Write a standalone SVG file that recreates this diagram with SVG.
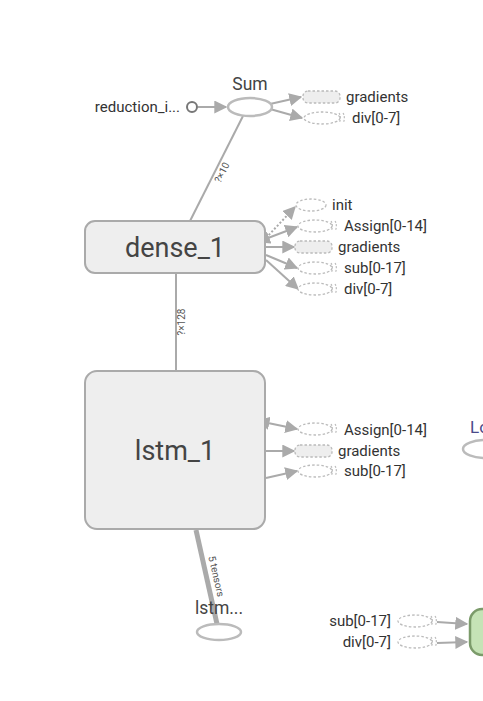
<svg xmlns="http://www.w3.org/2000/svg" width="483" height="701" viewBox="0 0 483 701">
<defs>
<style>
text{font-family:Roboto,"Liberation Sans",sans-serif;fill:#333}
.lbl{font-size:15px}
.big{font-size:27px;text-anchor:middle;fill:#444}
.mid{font-size:17.5px;text-anchor:middle;fill:#444}
.el{font-size:10px;fill:#555}
.edge{stroke:#aaa;stroke-width:2;fill:none}
.node{fill:#eee;stroke:#aaa;stroke-width:2}
.op{fill:#fff;stroke:#bbb;stroke-width:2.5}
.dash{fill:#fff;stroke:#bbb;stroke-width:1.3;stroke-dasharray:2.5,2}
.dbox{fill:#eee;stroke:#bbb;stroke-width:1.3;stroke-dasharray:2.5,2}
.arc{fill:none;stroke:#bbb;stroke-width:1.2;stroke-dasharray:2,1.5}
</style>
<marker id="ah" viewBox="0 0 10 10" refX="9" refY="5" markerWidth="6.5" markerHeight="6.5" orient="auto"><path d="M0,0L10,5L0,10z" fill="#aaa"/></marker>
<marker id="as" viewBox="0 0 10 10" refX="1" refY="5" markerWidth="6.5" markerHeight="6.5" orient="auto-start-reverse"><path d="M0,0L10,5L0,10z" fill="#aaa"/></marker>
</defs>

<g id="connectors">
<line class="edge" x1="198" y1="107" x2="226" y2="107" marker-end="url(#ah)"/>
<line class="edge" x1="270" y1="104" x2="301" y2="97" marker-end="url(#ah)"/>
<line class="edge" x1="270" y1="109" x2="302" y2="118" marker-end="url(#ah)"/>
<line class="edge" x1="243" y1="116" x2="190" y2="221"/>
<text class="el" transform="translate(225,174) rotate(-63)" text-anchor="middle">?×10</text>
<line class="edge" x1="266" y1="238" x2="295" y2="207" stroke-dasharray="2,2" marker-end="url(#ah)"/>
<line class="edge" x1="268" y1="238" x2="297" y2="227" marker-start="url(#as)" marker-end="url(#ah)"/>
<line class="edge" x1="266" y1="247" x2="294" y2="247" marker-end="url(#ah)"/>
<line class="edge" x1="266" y1="255" x2="297" y2="268" marker-end="url(#ah)"/>
<line class="edge" x1="266" y1="260" x2="298" y2="289" marker-end="url(#ah)"/>
<line class="edge" x1="176" y1="273" x2="176" y2="371"/>
<text class="el" transform="translate(185,322) rotate(-90)" text-anchor="middle">?×128</text>
<line class="edge" x1="268" y1="423" x2="297" y2="429" marker-start="url(#as)" marker-end="url(#ah)"/>
<line class="edge" x1="266" y1="451" x2="294" y2="451" marker-end="url(#ah)"/>
<line class="edge" x1="266" y1="478" x2="297" y2="471" marker-end="url(#ah)"/>
<line x1="196" y1="530" x2="217" y2="624" stroke="#aaa" stroke-width="5"/>
<text class="el" transform="translate(213,577) rotate(77)" text-anchor="middle">5 tensors</text>
<line class="edge" x1="437" y1="622" x2="467" y2="624" marker-end="url(#ah)"/>
<line class="edge" x1="437" y1="643" x2="467" y2="642" marker-end="url(#ah)"/>
</g>

<g id="reduction">
<text class="lbl" x="180" y="112" text-anchor="end">reduction_i...</text>
<circle cx="192" cy="107" r="5" fill="#fff" stroke="#777" stroke-width="2"/>
</g>

<g id="sum">
<text class="mid" x="250" y="90">Sum</text>
<ellipse class="op" cx="250" cy="107" rx="22" ry="9"/>
</g>

<g id="sum-gradients">
<rect class="dbox" x="303" y="91" width="37" height="12" rx="5"/>
<text class="lbl" x="346" y="102">gradients</text>
</g>
<g id="sum-div">
<ellipse class="dash" cx="322" cy="118" rx="18" ry="6"/>
<path class="arc" d="M339,113 A3,6 0 0 1 339,123 M343,113 A3,6 0 0 1 343,123"/>
<text class="lbl" x="352" y="123">div[0-7]</text>
</g>

<g id="dense_1">
<rect class="node" x="85" y="221" width="180" height="52" rx="10"/>
<text class="big" x="175" y="257">dense_1</text>
</g>

<g id="dense-init">
<ellipse class="dash" cx="311" cy="205" rx="15" ry="6"/>
<text class="lbl" x="332" y="210">init</text>
</g>
<g id="dense-assign">
<ellipse class="dash" cx="315" cy="226" rx="17" ry="6"/>
<path class="arc" d="M331,221 A3,6 0 0 1 331,231 M335,221 A3,6 0 0 1 335,231"/>
<text class="lbl" x="344" y="231">Assign[0-14]</text>
</g>
<g id="dense-gradients">
<rect class="dbox" x="295" y="241" width="37" height="12" rx="5"/>
<text class="lbl" x="338" y="252">gradients</text>
</g>
<g id="dense-sub">
<ellipse class="dash" cx="315" cy="268" rx="17" ry="6"/>
<path class="arc" d="M331,263 A3,6 0 0 1 331,273 M335,263 A3,6 0 0 1 335,273"/>
<text class="lbl" x="344" y="273">sub[0-17]</text>
</g>
<g id="dense-div">
<ellipse class="dash" cx="315" cy="289" rx="17" ry="6"/>
<path class="arc" d="M331,284 A3,6 0 0 1 331,294 M335,284 A3,6 0 0 1 335,294"/>
<text class="lbl" x="344" y="294">div[0-7]</text>
</g>

<g id="lstm_1">
<rect class="node" x="85" y="371" width="180" height="158" rx="12"/>
<text class="big" x="175" y="460">lstm_1</text>
</g>

<g id="lstm-assign">
<ellipse class="dash" cx="315" cy="429" rx="17" ry="6"/>
<path class="arc" d="M331,424 A3,6 0 0 1 331,434 M335,424 A3,6 0 0 1 335,434"/>
<text class="lbl" x="344" y="435">Assign[0-14]</text>
</g>
<g id="lstm-gradients">
<rect class="dbox" x="295" y="445" width="37" height="12" rx="5"/>
<text class="lbl" x="338" y="456">gradients</text>
</g>
<g id="lstm-sub">
<ellipse class="dash" cx="315" cy="471" rx="17" ry="6"/>
<path class="arc" d="M331,466 A3,6 0 0 1 331,476 M335,466 A3,6 0 0 1 335,476"/>
<text class="lbl" x="344" y="476">sub[0-17]</text>
</g>

<g id="lo">
<text x="470" y="433" style="font-size:17px;fill:#4a4a8a">Lo</text>
<ellipse class="op" cx="486" cy="449" rx="23" ry="9"/>
</g>

<g id="lstm-dots">
<text class="mid" x="219" y="614">lstm...</text>
<ellipse class="op" cx="219" cy="632" rx="22" ry="8"/>
</g>

<g id="bottom-sub">
<text class="lbl" x="391" y="626" text-anchor="end">sub[0-17]</text>
<ellipse class="dash" cx="415" cy="621" rx="17" ry="6"/>
<path class="arc" d="M431,616 A3,6 0 0 1 431,626 M435,616 A3,6 0 0 1 435,626"/>
</g>
<g id="bottom-div">
<text class="lbl" x="391" y="647" text-anchor="end">div[0-7]</text>
<ellipse class="dash" cx="415" cy="642" rx="17" ry="6"/>
<path class="arc" d="M431,637 A3,6 0 0 1 431,647 M435,637 A3,6 0 0 1 435,647"/>
</g>

<g id="green">
<rect x="470" y="609" width="60" height="46" rx="12" fill="#c5e3b6" stroke="#7b9b6a" stroke-width="2.5"/>
</g>
</svg>
